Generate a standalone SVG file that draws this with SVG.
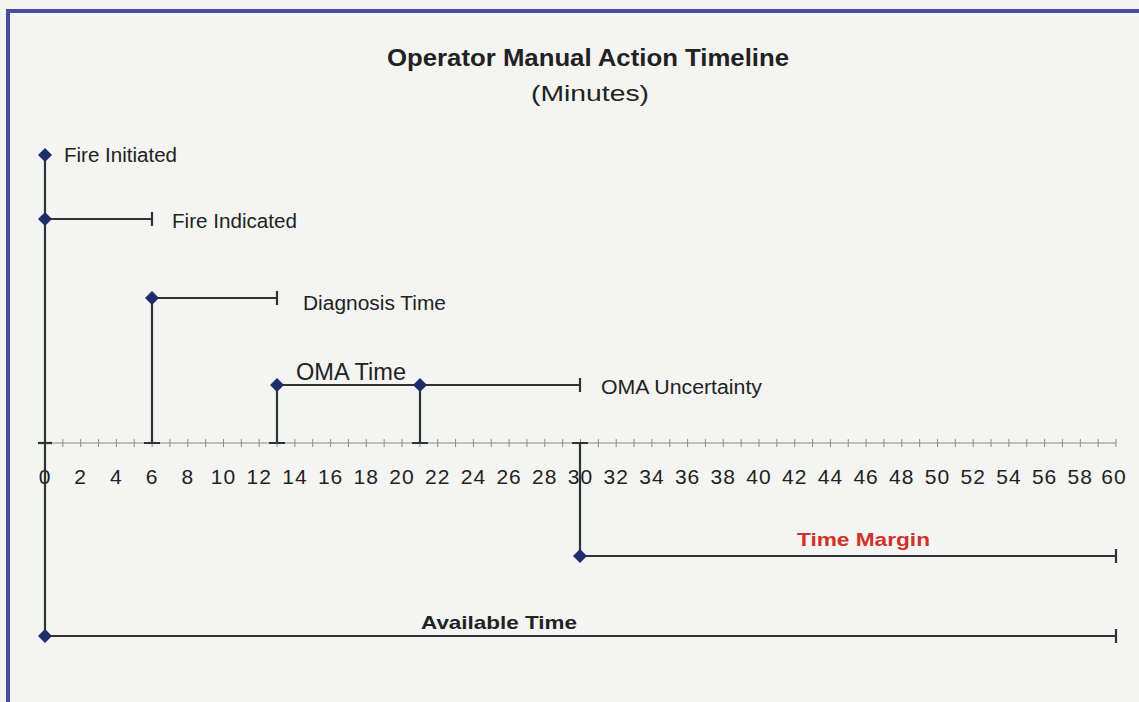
<svg xmlns="http://www.w3.org/2000/svg" width="1139" height="702" viewBox="0 0 1139 702">
<defs>
<style>
.bg{fill:#f4f5f2}
.frame{fill:none;stroke:#4b4b9e;stroke-width:4}
.ln{stroke:#2e3432;stroke-width:2.2;fill:none}
.axis{stroke:#8a8c8a;stroke-width:1.2;fill:none}
.tick{stroke:#8a8c8a;stroke-width:1}
.dia{fill:#1f2e6b}
.t{font-family:"Liberation Sans",Arial,sans-serif;fill:#222}
.lab{font-size:20px}
.num{font-size:21px;text-anchor:middle;letter-spacing:1px}
.title{font-size:24px;font-weight:bold}
.bold{font-size:19px;font-weight:bold}
.red{fill:#d2312a}
</style>
<path id="d" d="M0,-7 L7,0 L0,7 L-7,0 Z"/>
</defs>
<rect class="bg" x="0" y="0" width="1139" height="702"/>
<path class="frame" d="M8,702 L8,11 L1139,11"/>

<g id="title">
<text class="t title" x="387" y="66" textLength="402" lengthAdjust="spacingAndGlyphs">Operator Manual Action Timeline</text>
<text class="t" x="531" y="101" font-size="22" textLength="118" lengthAdjust="spacingAndGlyphs">(Minutes)</text>
</g>

<g id="axis">
<line class="axis" x1="38" y1="443" x2="1116" y2="443"/>
<path class="tick" d="M45,439v8M62.85,439v8M80.7,439v8M98.55,439v8M116.4,439v8M134.25,439v8M152.1,439v8M169.95,439v8M187.8,439v8M205.65,439v8M223.5,439v8M241.35,439v8M259.2,439v8M277.05,439v8M294.9,439v8M312.75,439v8M330.6,439v8M348.45,439v8M366.3,439v8M384.15,439v8M402,439v8M419.85,439v8M437.7,439v8M455.55,439v8M473.4,439v8M491.25,439v8M509.1,439v8M526.95,439v8M544.8,439v8M562.65,439v8M580.5,439v8M598.35,439v8M616.2,439v8M634.05,439v8M651.9,439v8M669.75,439v8M687.6,439v8M705.45,439v8M723.3,439v8M741.15,439v8M759,439v8M776.85,439v8M794.7,439v8M812.55,439v8M830.4,439v8M848.25,439v8M866.1,439v8M883.95,439v8M901.8,439v8M919.65,439v8M937.5,439v8M955.35,439v8M973.2,439v8M991.05,439v8M1008.9,439v8M1026.75,439v8M1044.6,439v8M1062.45,439v8M1080.3,439v8M1098.15,439v8M1116,439v8"/>
<g class="t num">
<text x="45" y="484">0</text>
<text x="80.7" y="484">2</text>
<text x="116.4" y="484">4</text>
<text x="152.1" y="484">6</text>
<text x="187.8" y="484">8</text>
<text x="223.5" y="484">10</text>
<text x="259.2" y="484">12</text>
<text x="294.9" y="484">14</text>
<text x="330.6" y="484">16</text>
<text x="366.3" y="484">18</text>
<text x="402" y="484">20</text>
<text x="437.7" y="484">22</text>
<text x="473.4" y="484">24</text>
<text x="509.1" y="484">26</text>
<text x="544.8" y="484">28</text>
<text x="580.5" y="484">30</text>
<text x="616.2" y="484">32</text>
<text x="651.9" y="484">34</text>
<text x="687.6" y="484">36</text>
<text x="723.3" y="484">38</text>
<text x="759" y="484">40</text>
<text x="794.7" y="484">42</text>
<text x="830.4" y="484">44</text>
<text x="866.1" y="484">46</text>
<text x="901.8" y="484">48</text>
<text x="937.5" y="484">50</text>
<text x="973.2" y="484">52</text>
<text x="1008.9" y="484">54</text>
<text x="1044.6" y="484">56</text>
<text x="1080.3" y="484">58</text>
<text x="1114" y="484">60</text>
</g>
</g>

<g id="connectors">
<path class="ln" d="M45,155 V636"/>
<path class="ln" d="M38,443 H52"/>
<path class="ln" d="M45,219 H152 M152,212 V226"/>
<path class="ln" d="M152,298 V443 M144,443 H160 M152,298 H277 M277,291 V305"/>
<path class="ln" d="M277,385 V443 M269,443 H285 M277,385 H580 M580,378 V392"/>
<path class="ln" d="M420,385 V443 M412,443 H428"/>
<path class="ln" d="M572,443 H588 M580,443 V556 H1116 M1116,549 V563"/>
<path class="ln" d="M45,636 H1116 M1116,629 V643"/>
</g>

<g id="fire-initiated">
<use href="#d" class="dia" x="45" y="155"/>
<text class="t lab" x="64" y="162" textLength="113" lengthAdjust="spacingAndGlyphs">Fire Initiated</text>
</g>
<g id="fire-indicated">
<use href="#d" class="dia" x="45" y="219"/>
<text class="t lab" x="172" y="228" textLength="125" lengthAdjust="spacingAndGlyphs">Fire Indicated</text>
</g>
<g id="diagnosis-time">
<use href="#d" class="dia" x="152" y="298"/>
<text class="t lab" x="303" y="310" textLength="143" lengthAdjust="spacingAndGlyphs">Diagnosis Time</text>
</g>
<g id="oma-time">
<use href="#d" class="dia" x="277" y="385"/>
<text class="t" font-size="23" x="296" y="380" textLength="110" lengthAdjust="spacingAndGlyphs">OMA Time</text>
</g>
<g id="oma-uncertainty">
<use href="#d" class="dia" x="420" y="385"/>
<text class="t lab" x="601" y="394" textLength="161" lengthAdjust="spacingAndGlyphs">OMA Uncertainty</text>
</g>
<g id="time-margin">
<use href="#d" class="dia" x="580" y="556"/>
<text class="t bold red" x="797" y="546" textLength="133" lengthAdjust="spacingAndGlyphs">Time Margin</text>
</g>
<g id="available-time">
<use href="#d" class="dia" x="45" y="636"/>
<text class="t bold" x="421" y="629" textLength="156" lengthAdjust="spacingAndGlyphs">Available Time</text>
</g>
</svg>
